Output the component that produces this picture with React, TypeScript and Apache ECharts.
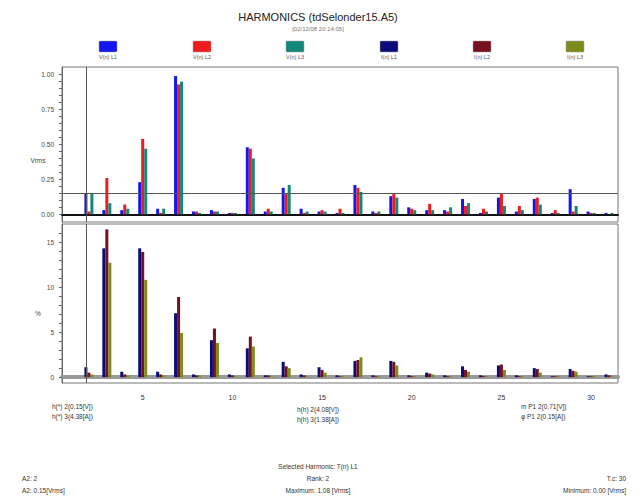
import React, { useEffect, useRef } from "react";
import * as echarts from "echarts";

const harmonics = ["1","2","3","4","5","6","7","8","9","10","11","12","13","14","15","16","17","18","19","20","21","22","23","24","25","26","27","28","29","30","31"];

// Upper panel (voltage, Vrms)
const v1 = [null,0.15,0.03,0.03,0.23,0.04,0.99,0.02,0.03,0.01,0.48,0.02,0.19,0.04,0.02,0.01,0.21,0.02,0.13,0.05,0.03,0.03,0.11,0.01,0.12,0.02,0.11,0.01,0.18,0.02,0.01];
const v2 = [null,0.02,0.26,0.07,0.54,0.01,0.93,0.02,0.02,0.01,0.47,0.04,0.15,0.01,0.03,0.04,0.19,0.01,0.145,0.04,0.075,0.02,0.06,0.04,0.145,0.06,0.12,0.03,0.02,0.01,0.0];
const v3 = [null,0.15,0.08,0.04,0.47,0.04,0.95,0.01,0.02,0.01,0.40,0.02,0.21,0.02,0.02,0.01,0.16,0.02,0.12,0.03,0.03,0.05,0.08,0.02,0.06,0.03,0.07,0.01,0.06,0.01,0.01];

// Lower panel (current, %)
const a1 = [null,1.1,14.3,0.6,14.3,0.6,7.1,0.3,4.1,0.3,3.2,0.2,1.7,0.3,1.1,0.2,1.8,0.2,1.8,0.2,0.5,0.2,1.2,0.2,1.3,0.2,1.0,0.1,0.9,0.1,0.3];
const a2 = [null,0.5,16.4,0.3,13.9,0.3,8.9,0.2,5.4,0.2,4.5,0.2,1.2,0.2,0.8,0.1,1.9,0.1,1.7,0.1,0.4,0.1,0.8,0.1,1.4,0.1,0.9,0.1,0.7,0.1,0.2];
const a3 = [null,0.3,12.7,0.2,10.8,0.2,4.9,0.2,3.8,0.1,3.4,0.1,1.0,0.1,0.5,0.1,2.2,0.1,1.3,0.1,0.3,0.1,0.6,0.1,0.8,0.1,0.5,0.1,0.6,0.1,0.1];

const seriesNames = ["V(n) L1", "V(n) L2", "V(n) L3", "I(n) L1", "I(n) L2", "I(n) L3"];
const seriesColors = ["#1515f0", "#ee1c1c", "#12877a", "#0c0c78", "#76101e", "#7d8a1c"];

const upperLabels = [0, 0.25, 0.5, 0.75, 1.0];
const upperTicks = [0,0.05,0.1,0.15,0.2,0.25,0.3,0.35,0.4,0.45,0.5,0.55,0.6,0.65,0.7,0.75,0.8,0.85,0.9,0.95,1.0];
const lowerLabels = [0, 5, 10, 15];
const lowerTicks = [0,1,2,3,4,5,6,7,8,9,10,11,12,13,14,15,16];

const selectedHarmonic = "2";

const title = "HARMONICS (tdSelonder15.A5)";
const subtitle = "[02/12/08 20:14:05]";
const infoLeft = ["h(*) 2(0.15[V])", "h(*) 3(4.38[A])"];
const infoMid = ["h(h) 2(4.08[V])", "h(h) 3(1.38[A])"];
const infoRight = ["m P1 2(0.71[V])", "φ P1 2(0.15[A])"];
const footerMid = ["Selected Harmonic: T(n) L1", "Rank: 2", "Maximum: 1.08 [Vrms]"];
const footerLeft = ["A2: 2", "A2: 0.15[Vrms]"];
const footerRight = ["T.c: 30", "Minimum: 0.00 [Vrms]"];

export default function App() {
  const ref = useRef<HTMLDivElement>(null);
  useEffect(() => {
    if (!ref.current) return;
    const chart = echarts.init(ref.current, null, { renderer: "svg" });
    const selIdx = harmonics.indexOf(selectedHarmonic);
    const font = "Liberation Sans, Arial, sans-serif";
    const txt = (x: number, y: number, text: string, size: number, align: string = "left", color = "#333", weight = "normal") => ({
      type: "text",
      x,
      y,
      style: { text, fontSize: size, fontFamily: font, fill: color, textAlign: align, textVerticalAlign: "middle", fontWeight: weight },
    });
    const legendCenters = [108, 202, 295, 389, 482, 575];
    const graphic: any[] = [
      txt(318, 17, title, 11, "center", "#222"),
      txt(318, 29, subtitle, 6, "center", "#777"),
      txt(38, 160, "Vrms", 6.5, "center", "#444"),
      txt(38, 313, "%", 6.5, "center", "#444"),
    ];
    seriesNames.forEach((n, i) => {
      graphic.push({
        type: "rect",
        shape: { x: legendCenters[i] - 9, y: 41, width: 18, height: 11, r: 1 },
        style: { fill: seriesColors[i], stroke: "#999", lineWidth: 0.5 },
      });
      graphic.push(txt(legendCenters[i], 57, n, 5.5, "center", "#555"));
    });
    infoLeft.forEach((t, i) => graphic.push(txt(52, 406 + i * 10, t, 6.5, "left")));
    infoMid.forEach((t, i) => graphic.push(txt(297, 409 + i * 10, t, 6.5, "left")));
    infoRight.forEach((t, i) => graphic.push(txt(521, 406 + i * 10, t, 6.5, "left")));
    footerMid.forEach((t, i) => graphic.push(txt(318, 466 + i * 12, t, 6.5, "center")));
    footerLeft.forEach((t, i) => graphic.push(txt(22, 478 + i * 12, t, 6.5, "left")));
    footerRight.forEach((t, i) => graphic.push(txt(626, 478 + i * 12, t, 6.5, "right")));

    const barBase = { type: "bar", barWidth: 3, barGap: "0%", silent: true };
    const cursorStyle = { color: "#555", width: 1, type: "solid" };

    chart.setOption({
      animation: false,
      graphic,
      grid: [
        { left: 62, top: 67, width: 556, height: 155, show: true, borderColor: "#777", borderWidth: 1 },
        { left: 62, top: 224, width: 556, height: 159, show: true, borderColor: "#777", borderWidth: 1 },
      ],
      xAxis: [
        {
          gridIndex: 0, type: "category", data: harmonics,
          axisLabel: { show: false }, axisTick: { show: false },
          axisLine: { lineStyle: { color: "#111", width: 2 } },
        },
        {
          gridIndex: 1, type: "category", data: harmonics,
          axisLabel: { interval: (_i: number, v: string) => Number(v) % 5 === 0, fontSize: 7, color: "#333", margin: 11, fontFamily: font },
          axisTick: { show: false },
          axisLine: { lineStyle: { color: "#999", width: 4 } },
        },
      ],
      yAxis: [
        {
          gridIndex: 0, type: "value", min: -0.055, max: 1.055,
          axisLine: { show: true, lineStyle: { color: "#666" } },
          axisTick: { show: true, customValues: upperTicks, length: 3, lineStyle: { color: "#666" } },
          axisLabel: { customValues: upperLabels, fontSize: 6.5, color: "#444", fontFamily: font, formatter: (v: number) => v.toFixed(2), margin: 8 },
          splitLine: { show: false },
        },
        {
          gridIndex: 1, type: "value", min: -0.65, max: 17,
          axisLine: { show: true, lineStyle: { color: "#666" } },
          axisTick: { show: true, customValues: lowerTicks, length: 3, lineStyle: { color: "#666" } },
          axisLabel: { customValues: lowerLabels, fontSize: 6.5, color: "#444", fontFamily: font, margin: 8 },
          splitLine: { show: false },
        },
      ],
      series: [
        {
          ...barBase, name: seriesNames[0], xAxisIndex: 0, yAxisIndex: 0, data: v1, itemStyle: { color: seriesColors[0] },
          markLine: {
            silent: true, symbol: "none", label: { show: false }, lineStyle: cursorStyle,
            data: [{ xAxis: selIdx }, { yAxis: v1[selIdx] }],
          },
        },
        { ...barBase, name: seriesNames[1], xAxisIndex: 0, yAxisIndex: 0, data: v2, itemStyle: { color: seriesColors[1] } },
        { ...barBase, name: seriesNames[2], xAxisIndex: 0, yAxisIndex: 0, data: v3, itemStyle: { color: seriesColors[2] } },
        {
          ...barBase, name: seriesNames[3], xAxisIndex: 1, yAxisIndex: 1, data: a1, itemStyle: { color: seriesColors[3] },
          markLine: {
            silent: true, symbol: "none", label: { show: false }, lineStyle: cursorStyle,
            data: [{ xAxis: selIdx }],
          },
        },
        { ...barBase, name: seriesNames[4], xAxisIndex: 1, yAxisIndex: 1, data: a2, itemStyle: { color: seriesColors[4] } },
        { ...barBase, name: seriesNames[5], xAxisIndex: 1, yAxisIndex: 1, data: a3, itemStyle: { color: seriesColors[5] } },
      ],
    });
    return () => chart.dispose();
  }, []);
  return (
    <div
      ref={ref}
      style={{ position: "absolute", left: 0, top: 0, width: 636, height: 500, background: "#fff" }}
    />
  );
}
